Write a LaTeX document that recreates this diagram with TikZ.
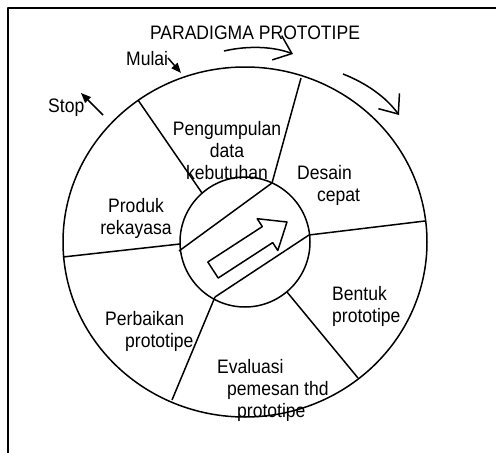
\documentclass[tikz,border=0pt]{standalone}
\usepackage{fontspec}
\setmainfont[FakeStretch=0.9]{Liberation Sans}
\usetikzlibrary{arrows.meta}
\tikzset{
  lbl/.style   ={inner sep=0pt,font=\fontsize{19.5}{22}\selectfont},
  rim/.style   ={draw=black,line width=1.5pt},
  spoke/.style ={draw=black,line width=1.5pt},
  turn/.style  ={-{Straight Barb[length=16pt,width=26pt]},draw=black,line width=1.5pt},
  cue/.style   ={-{Triangle[length=10pt,width=8pt]},draw=black,line width=1.5pt},
}

\begin{document}
\begin{tikzpicture}[
    x=1pt, y=-1pt, % pixel grid, y going down
    line join=round
]
\useasboundingbox (0,0) rectangle (496,453);

% Frame (only top and left edges show)
\draw[rim] (8,453) -- (8,8) -- (496,8);

% Wheel
\coordinate (c) at (245,242);
\draw[rim] (c) ellipse [x radius=182, y radius=175];
\draw[rim] (c) circle [radius=65];

% Spoke ends: outer (o) and inner (i)
\coordinate (o1) at (138,100);  \coordinate (i1) at (202,193);
\coordinate (o2) at (301,78);   \coordinate (i2) at (272,183);
\coordinate (o3) at (425,221);  \coordinate (i3) at (309,235);
\coordinate (o4) at (358,378);  \coordinate (i4) at (287,292);
\coordinate (o5) at (172,400);  \coordinate (i5) at (215,297);
\coordinate (o6) at (63,257);   \coordinate (i6) at (180,244);

\foreach \k in {1,...,6}
  \draw[spoke] (o\k) -- (i\k);

% Chords across the hub
\coordinate (hubA) at (179,251);
\draw[spoke] (hubA) -- (i2);
\draw[spoke] (i5) -- (i3);

% Block arrow in the hub
\draw[rim] (207.8,262) -- (262.3,226.6) -- (257.2,218.7) -- (287,222)
  -- (277.8,250.5) -- (272.7,242.6) -- (218.2,278) -- cycle;

% Nodes
\node[lbl, anchor=base] (title) at (255,39) {PARADIGMA PROTOTIPE};
\node[lbl, anchor=base west] (mulai) at (126,65) {Mulai};
\node[lbl, anchor=base west] (stop) at (48,112) {Stop};
\node[lbl, anchor=north, align=center] (kumpul) at (227,121) {Pengumpulan\\data\\kebutuhan};
\node[lbl, anchor=north west, align=left] (desain) at (297,165) {Desain\\\hspace*{20pt}cepat};
\node[lbl, anchor=north west, align=left] (bentuk) at (332,286) {Bentuk\\prototipe};
\node[lbl, anchor=north west, align=left] (evaluasi) at (217,359) {Evaluasi\\\hspace*{10pt}pemesan thd\\\hspace*{20pt}prototipe};
\node[lbl, anchor=north west, align=left] (perbaikan) at (105,311) {Perbaikan\\\hspace*{20pt}prototipe};
\node[lbl, anchor=north, align=center] (produk) at (136,198) {Produk\\rekayasa};

% Turning arrows round the rim
\coordinate (t1) at (224,51);  \coordinate (t2) at (293,54);
\coordinate (r1) at (343,74);  \coordinate (r2) at (399,115);
\draw[turn] (t1) .. controls (250,45) and (275,47) .. (t2);
\draw[turn] (r1) .. controls (366,83) and (386,97) .. (r2);

% Start and stop marks
\coordinate (m1) at (168,58);  \coordinate (m2) at (181,73);
\coordinate (s1) at (103,115); \coordinate (s2) at (81,93);
\draw[cue] (m1) -- (m2);
\draw[cue] (s1) -- (s2);

\end{tikzpicture}
\end{document}
